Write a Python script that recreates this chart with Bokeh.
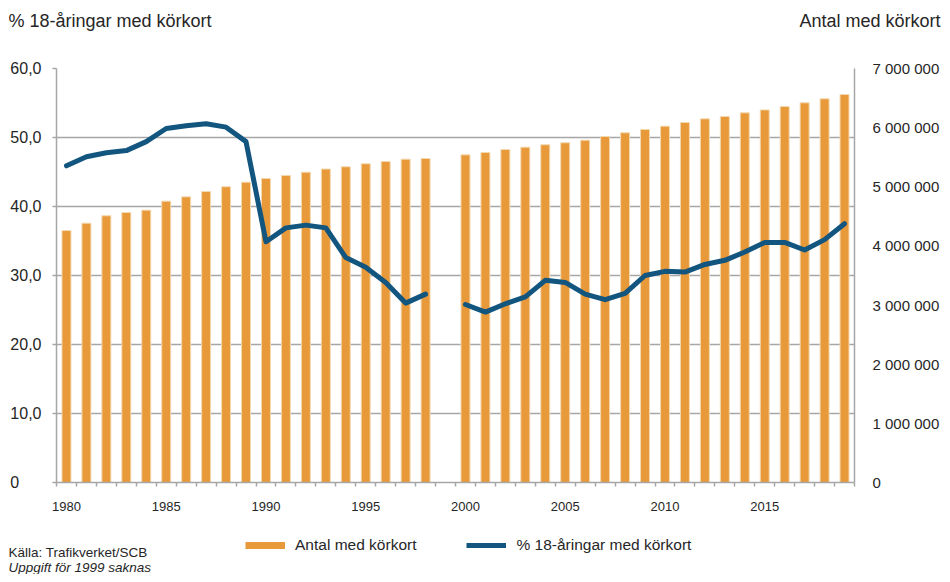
from bokeh.plotting import figure
from bokeh.layouts import column
from bokeh.models import (Range1d, LinearAxis, FixedTicker, CustomJSTickFormatter,
                          Legend, LegendItem, ColumnDataSource)
from bokeh.core.properties import value
from bokeh.embed import file_html
from bokeh.resources import INLINE

nan = float("nan")

years = [1980, 1981, 1982, 1983, 1984, 1985, 1986, 1987, 1988, 1989,
         1990, 1991, 1992, 1993, 1994, 1995, 1996, 1997, 1998, 1999,
         2000, 2001, 2002, 2003, 2004, 2005, 2006, 2007, 2008, 2009,
         2010, 2011, 2012, 2013, 2014, 2015, 2016, 2017, 2018, 2019]

# Antal med körkort (right axis); 1999 missing
antal = [4260000, 4385000, 4510000, 4565000, 4605000, 4757000, 4830000, 4920000, 5000000, 5078000,
         5140000, 5190000, 5247000, 5300000, 5338000, 5389000, 5428000, 5467000, 5478000, nan,
         5540000, 5580000, 5630000, 5670000, 5710000, 5744000, 5788000, 5850000, 5913000, 5969000,
         6025000, 6087000, 6149000, 6189000, 6250000, 6300000, 6358000, 6420000, 6488000, 6560000]

# % 18-åringar med körkort (left axis); 1999 missing
andel = [45.9, 47.2, 47.8, 48.1, 49.4, 51.3, 51.7, 52.0, 51.5, 49.4,
         34.9, 36.9, 37.3, 36.9, 32.6, 31.2, 29.0, 26.0, 27.3, nan,
         25.8, 24.7, 25.9, 26.9, 29.3, 29.0, 27.3, 26.5, 27.4, 30.0,
         30.6, 30.5, 31.6, 32.2, 33.4, 34.8, 34.8, 33.7, 35.2, 37.5]

left_ticks = [0, 10, 20, 30, 40, 50, 60]
right_ticks = [0, 1000000, 2000000, 3000000, 4000000, 5000000, 6000000, 7000000]
x_label_years = [1980, 1985, 1990, 1995, 2000, 2005, 2010, 2015]

left_title = "% 18-åringar med körkort"
right_title = "Antal med körkort"
legend_bar_label = "Antal med körkort"
legend_line_label = "% 18-åringar med körkort"
source_note = "Källa: Trafikverket/SCB"
missing_note = "Uppgift för 1999 saknas"

ORANGE = "#E8993A"
BLUE = "#12557F"
GRID = "#a6a6a6"
TXT = "#262626"
FONT = "Liberation Sans"

W = 942
H_HEAD = 56
H_MAIN = 471
H_FOOT = 47


def text_strip(height):
    fig = figure(width=W, height=height, output_backend="svg", toolbar_location=None,
                 x_range=Range1d(0, W), y_range=Range1d(height, 0),
                 x_axis_location=None, y_axis_location=None, frame_align=False,
                 min_border=0, min_border_left=0, min_border_right=0,
                 min_border_top=0, min_border_bottom=0)
    fig.grid.visible = False
    fig.outline_line_color = None
    fig.background_fill_color = "white"
    fig.border_fill_color = "white"
    return fig


# ---------- header with the two axis titles ----------
head = text_strip(H_HEAD)
head.text(x=[8], y=[20], text=[left_title], text_font=value(FONT), text_font_size="18px",
          text_color=TXT, text_baseline="middle", text_align="left")
head.text(x=[940], y=[20], text=[right_title], text_font=value(FONT), text_font_size="18px",
          text_color=TXT, text_baseline="middle", text_align="right")

# ---------- main chart ----------
src = ColumnDataSource(dict(year=years, antal=antal, andel=andel))

p = figure(width=W, height=H_MAIN, output_backend="svg", toolbar_location=None,
           x_range=Range1d(1979.5, 2019.5), y_range=Range1d(0, 60), frame_align=False,
           min_border_left=56, min_border_right=87, min_border_top=12, min_border_bottom=45)
p.extra_y_ranges = {"right": Range1d(0, 7000000)}
p.outline_line_color = None
p.background_fill_color = "white"
p.border_fill_color = "white"

p.vbar(x="year", top="antal", bottom=0, width=0.45, source=src, y_range_name="right",
       fill_color=ORANGE, line_color="#f3d9b1", line_width=1)
p.line(x="year", y="andel", source=src, line_color=BLUE, line_width=5,
       line_join="round", line_cap="round")

xax = p.xaxis[0]
xax.ticker = FixedTicker(ticks=x_label_years,
                         minor_ticks=[y - 0.5 for y in years] + [years[-1] + 0.5])
xax.axis_line_color = GRID
xax.axis_line_width = 1.5
xax.major_tick_line_color = None
xax.major_tick_out = 0
xax.major_tick_in = 0
xax.minor_tick_line_color = GRID
xax.minor_tick_line_width = 1.5
xax.minor_tick_out = 4
xax.minor_tick_in = 0
xax.major_label_standoff = 15
xax.major_label_text_font = FONT
xax.major_label_text_font_size = "13px"
xax.major_label_text_color = TXT

yax = p.yaxis[0]
yax.ticker = FixedTicker(ticks=left_ticks)
yax.formatter = CustomJSTickFormatter(code="""
if (tick == 0) { return "0\\u2007\\u2007\\u2008"; }
return tick.toFixed(1).replace(".", ",");
""")
yax.axis_line_color = GRID
yax.axis_line_width = 1.5
yax.major_tick_line_color = GRID
yax.major_tick_line_width = 1.5
yax.major_tick_out = 4
yax.major_tick_in = 0
yax.minor_tick_line_color = None
yax.major_label_standoff = 11
yax.major_label_text_font = FONT
yax.major_label_text_font_size = "16px"
yax.major_label_text_color = TXT

rax = LinearAxis(y_range_name="right", ticker=FixedTicker(ticks=right_ticks))
rax.formatter = CustomJSTickFormatter(code="""
if (tick == 0) { return "0"; }
return String(Math.round(tick)).replace(/\\B(?=(\\d{3})+(?!\\d))/g, " ");
""")
rax.axis_line_color = GRID
rax.axis_line_width = 1.5
rax.major_tick_line_color = None
rax.major_tick_out = 0
rax.major_tick_in = 0
rax.minor_tick_line_color = None
rax.major_label_standoff = 18
rax.major_label_text_font = FONT
rax.major_label_text_font_size = "15px"
rax.major_label_text_color = TXT
p.add_layout(rax, "right")

p.xgrid.grid_line_color = None
p.ygrid.ticker = FixedTicker(ticks=left_ticks)
p.ygrid.grid_line_color = GRID
p.ygrid.grid_line_width = 1.5

# ---------- footer with legend and notes ----------
foot = text_strip(H_FOOT)
# legend swatches only (kept outside the visible range)
leg_bar = foot.line(x=[-20, -10], y=[-20, -20], line_color=ORANGE, line_width=7)
leg_line = foot.line(x=[-20, -10], y=[-20, -20], line_color=BLUE, line_width=5)
foot.text(x=[8], y=[25], text=[source_note], text_font=value(FONT), text_font_size="13.5px",
          text_color=TXT, text_baseline="middle", text_align="left")
foot.text(x=[8], y=[40], text=[missing_note], text_font=value(FONT), text_font_size="13.5px",
          text_font_style="italic", text_color=TXT, text_baseline="middle", text_align="left")

legend = Legend(items=[LegendItem(label=legend_bar_label, renderers=[leg_bar]),
                       LegendItem(label=legend_line_label, renderers=[leg_line])],
                orientation="horizontal", location=(245, 20),
                glyph_width=40, glyph_height=18, label_height=18, label_standoff=10,
                spacing=50, padding=0, margin=0, border_line_color=None,
                background_fill_alpha=0,
                label_text_font=FONT, label_text_font_size="15.5px", label_text_color=TXT)
foot.add_layout(legend, "center")

layout = column(head, p, foot, spacing=0)

open("out.html", "w").write(file_html(layout, INLINE))
